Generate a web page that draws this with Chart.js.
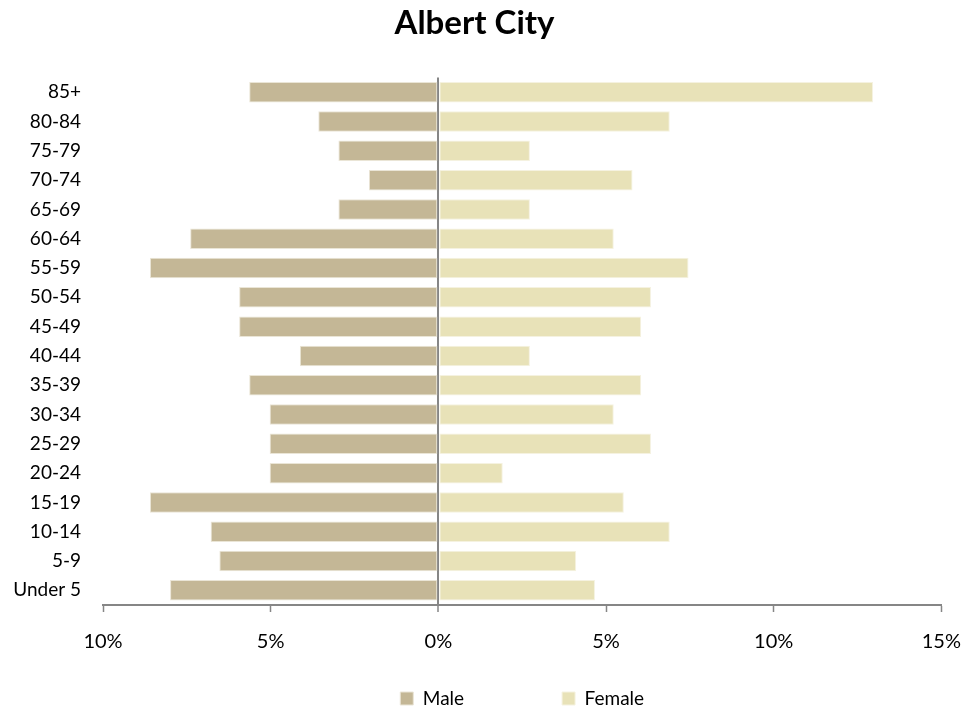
<!DOCTYPE html>
<html>
<head>
<meta charset="utf-8">
<title>Albert City</title>
<script src="https://cdn.jsdelivr.net/npm/chart.js@4.4.0/dist/chart.umd.min.js"></script>
<style>
  html, body { margin: 0; padding: 0; background: #fff; }
  #wrap { width: 979px; height: 713px; }
</style>
</head>
<body>
<div id="wrap"><canvas id="pyramid"></canvas></div>
<script>
// age groups, bottom to top
const ageGroups = ["Under 5", "5-9", "10-14", "15-19", "20-24", "25-29", "30-34", "35-39",
  "40-44", "45-49", "50-54", "55-59", "60-64", "65-69", "70-74", "75-79", "80-84", "85+"];

// share of population (%)
const malePct = [8.00, 6.53, 6.79, 8.60, 5.03, 5.03, 5.03, 5.64,
  4.13, 5.94, 5.94, 8.60, 7.40, 2.98, 2.07, 2.98, 3.58, 5.64];
const femalePct = [4.67, 4.11, 6.90, 5.53, 1.92, 6.34, 5.23, 6.05,
  2.73, 6.05, 6.34, 7.46, 5.23, 2.73, 5.79, 2.73, 6.90, 12.96];

const xTicks = [-10, -5, 0, 5, 10, 15];

const AXIS_GRAY = "#868686";
const FONT = "Lato, 'Open Sans', sans-serif";

const defaultLabels = Chart.defaults.plugins.legend.labels.generateLabels;

const ctx = document.getElementById("pyramid").getContext("2d");
new Chart(ctx, {
  type: "bar",
  data: {
    labels: ageGroups,
    datasets: [
      {
        label: "Male",
        data: malePct.map((v) => -v), // male goes to the left
        backgroundColor: "#C4B796",
        borderColor: "#EAE5D6",
        borderWidth: 1,
        borderSkipped: false,
      },
      {
        label: "Female",
        data: femalePct,
        backgroundColor: "#E8E2B8",
        borderColor: "#F5F2E0",
        borderWidth: 1,
        borderSkipped: false,
      },
    ],
  },
  options: {
    indexAxis: "y",
    responsive: true,
    maintainAspectRatio: false,
    animation: false,
    devicePixelRatio: 1,
    layout: { padding: { left: 0, right: 30, top: 0, bottom: -5 } },
    datasets: {
      bar: { barPercentage: 0.7, categoryPercentage: 1.0 },
    },
    scales: {
      x: {
        stacked: true,
        min: -10,
        max: 15,
        afterBuildTicks: (scale) => {
          scale.ticks = xTicks.map((v) => ({ value: v }));
        },
        ticks: {
          callback: (v) => Math.abs(v) + "%",
          color: "#000",
          font: { family: FONT, size: 20 },
          padding: 18,
          maxRotation: 0,
        },
        grid: {
          color: (c) => (c.tick && c.tick.value === 0 ? AXIS_GRAY : "rgba(0,0,0,0)"),
          lineWidth: (c) => (c.tick && c.tick.value === 0 ? 2 : 1),
          tickColor: AXIS_GRAY,
          tickWidth: 1.5,
          tickLength: 7,
        },
        border: { display: true, color: AXIS_GRAY, width: 2 },
      },
      y: {
        stacked: true,
        reverse: true,
        afterFit: (scale) => {
          scale.width = 103;
        },
        ticks: {
          color: "#000",
          font: { family: FONT, size: 19 },
          padding: 22,
          autoSkip: false,
        },
        grid: { display: false, drawTicks: false },
        border: { display: false },
      },
    },
    plugins: {
      title: {
        display: true,
        text: "Albert City",
        color: "#000",
        font: { family: FONT, size: 33, weight: "bold" },
        padding: { top: 4, bottom: 34 },
      },
      legend: {
        position: "bottom",
        fullSize: false,
        labels: {
          color: "#000",
          font: { family: FONT, size: 19 },
          boxWidth: 13,
          boxHeight: 13,
          padding: 17,
          // wider gap after "Male", like the original legend
          generateLabels: (chart) => {
            const items = defaultLabels(chart);
            items[0].text = items[0].text + "\u2003".repeat(5) + "  ";
            return items;
          },
        },
      },
      tooltip: { enabled: false },
    },
  },
});
</script>
</body>
</html>
